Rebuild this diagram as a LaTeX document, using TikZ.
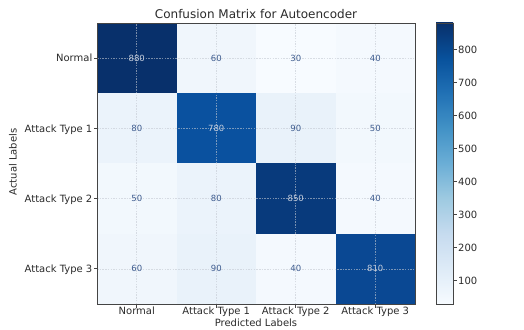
\documentclass[tikz,border=0pt]{standalone}
\usepackage{fontspec}
\setmainfont{DejaVu Sans}
\definecolor{b0}{HTML}{F7FBFF}
\definecolor{b1}{HTML}{DEEBF7}
\definecolor{b2}{HTML}{C6DBEF}
\definecolor{b3}{HTML}{9ECAE1}
\definecolor{b4}{HTML}{6BAED6}
\definecolor{b5}{HTML}{4292C6}
\definecolor{b6}{HTML}{2171B5}
\definecolor{b7}{HTML}{08519C}
\definecolor{b8}{HTML}{08306B}
\definecolor{v880}{HTML}{08306B}
\definecolor{v850}{HTML}{083A7C}
\definecolor{v810}{HTML}{0A4893}
\definecolor{v780}{HTML}{0A519F}
\definecolor{v90}{HTML}{E9F2FA}
\definecolor{v80}{HTML}{EBF3FB}
\definecolor{v60}{HTML}{F0F6FC}
\definecolor{v50}{HTML}{F2F8FD}
\definecolor{v40}{HTML}{F4F9FE}
\definecolor{v30}{HTML}{F7FBFF}
\definecolor{numdark}{HTML}{3E5C8F}
\definecolor{numlight}{HTML}{C5CEDD}
\definecolor{labcol}{HTML}{2A2A2A}
\definecolor{framecol}{HTML}{444444}
\definecolor{gridcol}{HTML}{C4C9D2}
\pgfdeclareverticalshading{bluesbar}{100bp}{color(0bp)=(b0); color(25bp)=(b0); color(31.25bp)=(b1); color(37.5bp)=(b2); color(43.75bp)=(b3); color(50bp)=(b4); color(56.25bp)=(b5); color(62.5bp)=(b6); color(68.75bp)=(b7); color(75bp)=(b8); color(100bp)=(b8)}
\begin{document}
\begin{tikzpicture}[x=1pt,y=1pt,
  cell/.style={minimum width=79.5pt, minimum height=70.25pt, inner sep=0pt, outer sep=0pt, draw=none},
  val/.style={font=\fontsize{8.5}{10}\selectfont, inner sep=1pt},
  lab/.style={font=\fontsize{10}{12}\selectfont, text=labcol, inner sep=0pt},
  gridl/.style={draw=gridcol, line width=0.6pt, dash pattern=on 1.5pt off 1.2pt, opacity=0.6},
  axline/.style={draw=framecol, line width=0.8pt}
]
\useasboundingbox (0,0) rectangle (524,329);
% cells
\foreach \r/\c/\v/\tc in {0/0/880/numlight,0/1/60/numdark,0/2/30/numdark,0/3/40/numdark,
  1/0/80/numdark,1/1/780/numlight,1/2/90/numdark,1/3/50/numdark,
  2/0/50/numdark,2/1/80/numdark,2/2/850/numlight,2/3/40/numdark,
  3/0/60/numdark,3/1/90/numdark,3/2/40/numdark,3/3/810/numlight}{
  \node[cell, fill=v\v] (cell-\r-\c) at ({136.75+79.5*\c},{270.875-70.25*\r}) {};
}
% grid lines
\foreach \c in {0,1,2,3}{
  \draw[gridl] ({136.75+79.5*\c},25) -- ({136.75+79.5*\c},306);
}
\foreach \r in {0,1,2,3}{
  \draw[gridl] (97,{270.875-70.25*\r}) -- (415,{270.875-70.25*\r});
}
% values
\foreach \r/\c/\v/\tc in {0/0/880/numlight,0/1/60/numdark,0/2/30/numdark,0/3/40/numdark,
  1/0/80/numdark,1/1/780/numlight,1/2/90/numdark,1/3/50/numdark,
  2/0/50/numdark,2/1/80/numdark,2/2/850/numlight,2/3/40/numdark,
  3/0/60/numdark,3/1/90/numdark,3/2/40/numdark,3/3/810/numlight}{
  \node[val, text=\tc] (val-\r-\c) at (cell-\r-\c) {\v};
}
% frame
\node[draw=framecol, line width=0.8pt, minimum width=318pt, minimum height=281pt, inner sep=0pt, outer sep=0pt] (hm) at (256,165.5) {};
% y ticks and labels
\foreach \r/\t in {0/Normal,1/Attack Type 1,2/Attack Type 2,3/Attack Type 3}{
  \coordinate (yt-\r) at (97,{270.875-70.25*\r});
  \draw[axline] (yt-\r) -- ++(-3.5,0);
  \node[lab, anchor=base east] (yl-\r) at (92.5,{270.875-70.25*\r-3.8}) {\t};
}
% x ticks and labels
\foreach \c/\t in {0/Normal,1/Attack Type 1,2/Attack Type 2,3/Attack Type 3}{
  \coordinate (xt-\c) at ({136.75+79.5*\c},25);
  \draw[axline] (xt-\c) -- ++(0,-3.5);
  \node[lab, anchor=base] (xl-\c) at ({136.75+79.5*\c},14.5) {\t};
}
% axis labels and title
\node[lab, anchor=base] (xlabel) at (256,3) {Predicted Labels};
\node[lab, rotate=90] (ylabel) at (13,167) {Actual Labels};
\node[font=\fontsize{12}{14}\selectfont, text=labcol, anchor=base, inner sep=0pt] (title) at (256,310) {Confusion Matrix for Autoencoder};
% colorbar
\node[shading=bluesbar, shade, draw=framecol, line width=0.8pt, minimum width=17pt, minimum height=281pt, inner sep=0pt, outer sep=0pt] (cbar) at (444.5,165.5) {};
\foreach \v in {100,200,...,800}{
  \coordinate (ct-\v) at (453,{25+(\v-30)/850*281});
  \draw[axline] (ct-\v) -- ++(3.5,0);
  \node[lab, anchor=west] (cl-\v) at (458,{25+(\v-30)/850*281}) {\v};
}
\end{tikzpicture}
\end{document}
